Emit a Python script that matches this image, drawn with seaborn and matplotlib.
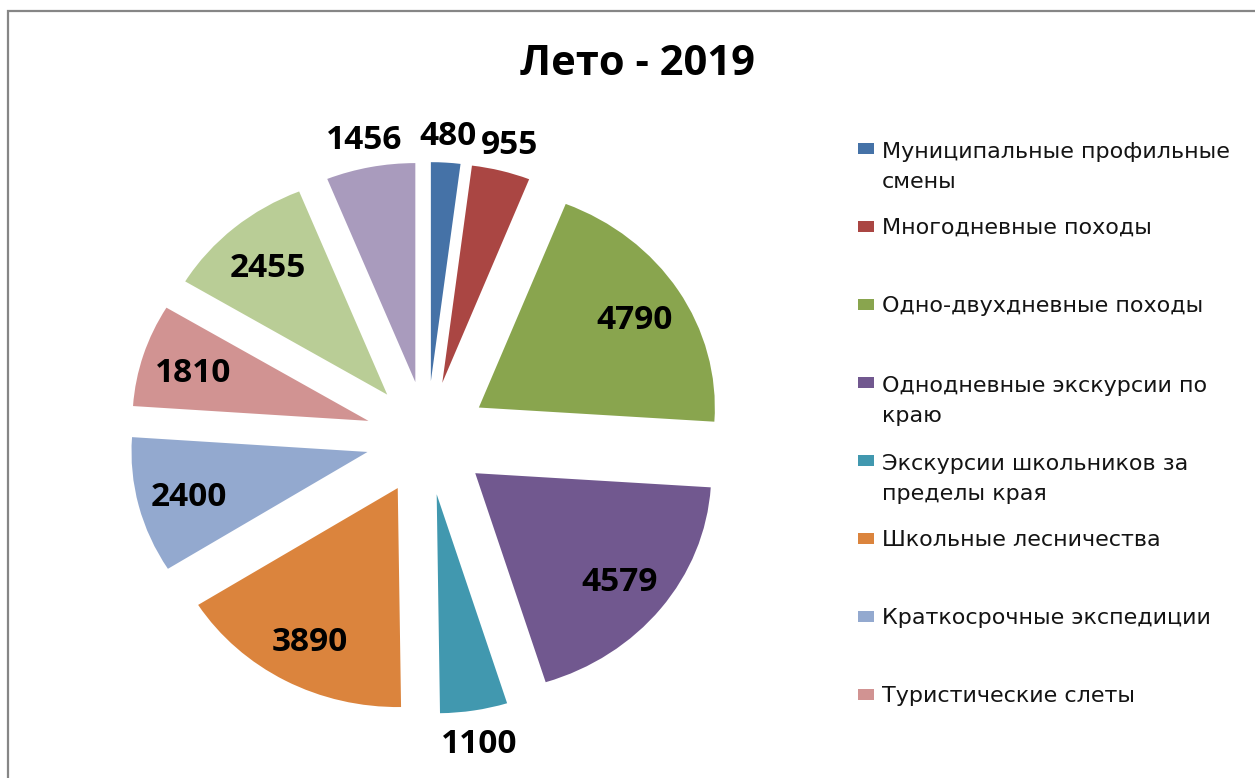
import numpy as np
import matplotlib
matplotlib.use("Agg")
import matplotlib.pyplot as plt
from matplotlib.patches import Rectangle
import seaborn as sns

# --- data -------------------------------------------------------------
title = "Лето - 2019"
categories = [
    "Муниципальные профильные\nсмены",
    "Многодневные походы",
    "Одно-двухдневные походы",
    "Однодневные экскурсии по\nкраю",
    "Экскурсии школьников за\nпределы края",
    "Школьные лесничества",
    "Краткосрочные экспедиции",
    "Туристические слеты",
]
values = [480, 955, 4790, 4579, 1100, 3890, 2400, 1810, 2455, 1456]
colors = ["#4572A7", "#AA4643", "#89A54E", "#71588F", "#4198AF",
          "#DB843D", "#93A9CF", "#D19392", "#B9CD96", "#A99BBD"]

sns.set_theme(style="white")
plt.rcParams["font.family"] = ["DejaVu Sans"]

W, H = 1255, 778
fig = plt.figure(figsize=(W / 100, H / 100), dpi=100)
fig.patch.set_facecolor("white")

# pie axes: centre at (427, 438) px, 236 px per unit across, 219 px per unit down
cx, cy, sx, sy = 427, 438, 236, 219
xr, yr = 1.4, 1.5
ax = fig.add_axes([(cx - xr * sx) / W, (H - cy - yr * sy) / H,
                   2 * xr * sx / W, 2 * yr * sy / H])

explode = [0.26] * len(values)
wedges, _ = ax.pie(values, colors=colors, startangle=90, counterclock=False,
                   explode=explode, radius=1.0,
                   wedgeprops=dict(linewidth=0, antialiased=True))
ax.set_aspect("auto")
ax.set_xlim(-xr, xr)
ax.set_ylim(-yr, yr)
ax.axis("off")

# value labels: inside the larger slices, just outside the small ones
total = float(sum(values))
label_font = dict(family=["Open Sans", "DejaVu Sans"], fontsize=24,
                  fontweight="bold", color="black")
for w, v in zip(wedges, values):
    mid = np.deg2rad((w.theta1 + w.theta2) / 2.0)
    d = 0.78 if v / total > 0.065 else 1.14
    x0, y0 = w.center
    ax.text(x0 + d * np.cos(mid), y0 + d * np.sin(mid), f"{v}",
            ha="center", va="center_baseline", **label_font)

# title
fig.text(637 / W, 1 - 75 / H, title, ha="center", va="baseline",
         family=["Open Sans", "DejaVu Sans"], fontsize=30,
         fontweight="bold", color="black")

# legend, one entry every 78 px; a wrapped label continues 32 px lower
line_step = 32
for i, (name, col) in enumerate(zip(categories, colors)):
    base = 156 + 78 * i
    extra = name.count("\n") * line_step
    fig.add_artist(Rectangle((858 / W, 1 - (base - 2) / H), 16 / W, 11 / H,
                             transform=fig.transFigure, facecolor=col,
                             edgecolor="none"))
    fig.text(882 / W, 1 - (base + extra) / H, name, ha="left", va="baseline",
             fontsize=16, color="#141414", linespacing=1.6)

# chart frame
fig.add_artist(Rectangle((8 / W, -0.1), 1.2, 1 - 11 / H + 0.1,
                         transform=fig.transFigure, facecolor="none",
                         edgecolor="#868686", linewidth=1.6, clip_on=False))

fig.savefig("out.png", dpi=100, facecolor="white")
